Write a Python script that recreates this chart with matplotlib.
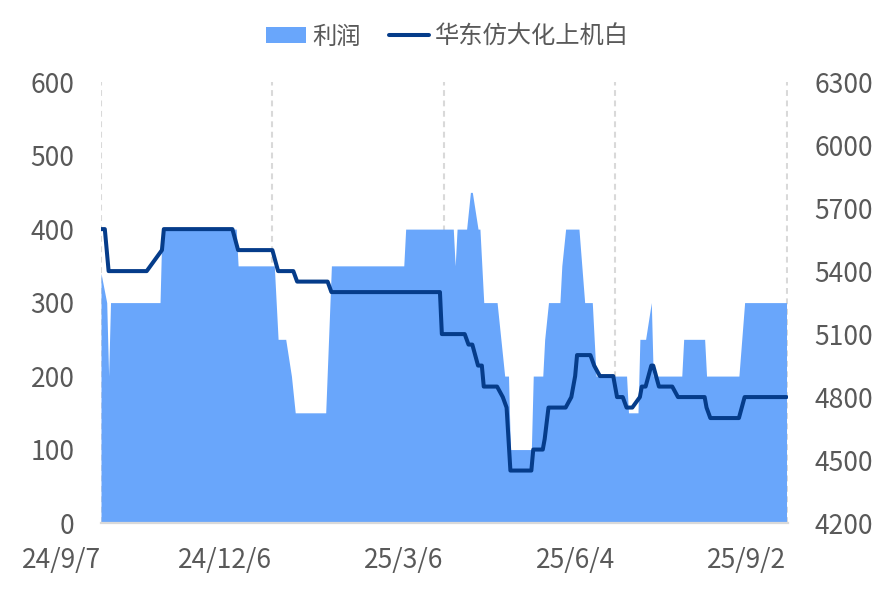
import matplotlib
matplotlib.use('Agg')
import matplotlib.pyplot as plt
import pandas as pd
from matplotlib.patches import Patch
from matplotlib.lines import Line2D

plt.rcParams['font.family'] = ['Noto Sans CJK SC', 'DejaVu Sans']

# ---- data (vertices) ----
profit_dates = [
    '2024-09-07', '2024-09-10', '2024-09-11', '2024-09-12', '2024-10-08', '2024-10-09',
    '2024-11-17', '2024-11-18', '2024-12-07', '2024-12-09', '2024-12-13', '2024-12-16',
    '2024-12-18', '2025-01-03', '2025-01-06', '2025-02-13', '2025-02-14', '2025-03-11',
    '2025-03-12', '2025-03-13', '2025-03-18', '2025-03-20', '2025-03-21', '2025-03-24',
    '2025-03-25', '2025-03-27', '2025-04-03', '2025-04-07', '2025-04-09', '2025-04-10',
    '2025-04-21', '2025-04-22', '2025-04-27', '2025-04-28', '2025-04-30', '2025-05-06',
    '2025-05-07', '2025-05-09', '2025-05-16', '2025-05-19', '2025-05-23', '2025-05-25',
    '2025-06-10', '2025-06-11', '2025-06-16', '2025-06-17', '2025-06-20', '2025-06-23',
    '2025-06-24', '2025-07-09', '2025-07-10', '2025-07-21', '2025-07-22', '2025-08-08',
    '2025-08-11', '2025-09-02',
]
profit = [
    340, 300, 200, 300, 300, 400,
    400, 350, 350, 250, 250, 200,
    150, 150, 350, 350, 400, 400,
    350, 400, 400, 450, 450, 400,
    400, 300, 300, 200, 200, 100,
    100, 200, 200, 250, 300, 300,
    350, 400, 400, 300, 300, 200,
    200, 150, 150, 250, 250, 300,
    200, 200, 250, 250, 200, 200,
    300, 300,
]

price_dates = [
    '2024-09-07', '2024-09-09', '2024-09-11', '2024-10-01', '2024-10-09', '2024-10-10',
    '2024-11-15', '2024-11-18', '2024-12-06', '2024-12-09', '2024-12-17', '2024-12-19',
    '2025-01-04', '2025-01-06', '2025-03-04', '2025-03-05', '2025-03-17', '2025-03-19',
    '2025-03-21', '2025-03-24', '2025-03-26', '2025-03-27', '2025-04-03', '2025-04-06',
    '2025-04-08', '2025-04-10', '2025-04-21', '2025-04-22', '2025-04-27', '2025-04-28',
    '2025-04-30', '2025-05-09', '2025-05-12', '2025-05-14', '2025-05-15', '2025-05-22',
    '2025-05-24', '2025-05-27', '2025-06-03', '2025-06-05', '2025-06-08', '2025-06-10',
    '2025-06-13', '2025-06-17', '2025-06-18', '2025-06-20', '2025-06-23', '2025-06-24',
    '2025-06-27', '2025-07-04', '2025-07-07', '2025-07-21', '2025-07-22', '2025-07-24',
    '2025-08-08', '2025-08-11', '2025-09-02',
]
price = [
    5600, 5600, 5400, 5400, 5500, 5600,
    5600, 5500, 5500, 5400, 5400, 5350,
    5350, 5300, 5300, 5100, 5100, 5050,
    5050, 4950, 4950, 4850, 4850, 4800,
    4750, 4450, 4450, 4550, 4550, 4600,
    4750, 4750, 4800, 4900, 5000, 5000,
    4950, 4900, 4900, 4800, 4800, 4750,
    4750, 4800, 4850, 4850, 4950, 4950,
    4850, 4850, 4800, 4800, 4750, 4700,
    4700, 4800, 4800,
]

tick_dates = ['2024-09-07', '2024-12-06', '2025-03-06', '2025-06-04', '2025-09-02']

AREA = '#69A6FB'
LINE = '#053C8A'
TXT = '#595959'
GRID = '#D9D9D9'

pdates = pd.to_datetime(profit_dates)
ldates = pd.to_datetime(price_dates)
ticks = pd.to_datetime(tick_dates)

fig = plt.figure(figsize=(8.86, 5.91), dpi=100)
ax = fig.add_axes([0.114, 0.115, 0.775, 0.746])
ax2 = ax.twinx()

ax.fill_between(pdates, profit, 0, color=AREA, linewidth=0, zorder=2)
ax2.plot(ldates, price, color=LINE, linewidth=2.9, solid_joinstyle='round',
         solid_capstyle='round', zorder=3)

ax.set_xlim(ticks[0], ticks[-1] + pd.Timedelta(days=0.6))
ax.set_ylim(0, 600)
ax2.set_ylim(4200, 6300)
ax.set_yticks(range(0, 601, 100))
ax2.set_yticks(range(4200, 6301, 300))

for t in ticks:
    ax.axvline(t, color=GRID, linestyle=(0, (2.8, 2.2)), linewidth=1.5, zorder=1)

ax.set_xticks(ticks)
ax.set_xticklabels([f'{d.year % 100}/{d.month}/{d.day}' for d in ticks], ha='right')

for a in (ax, ax2):
    for s in ('top', 'left', 'right'):
        a.spines[s].set_visible(False)
    a.tick_params(length=0, labelsize=19, labelcolor=TXT)
ax2.spines['bottom'].set_visible(False)
ax.spines['bottom'].set_color(GRID)
ax.spines['bottom'].set_linewidth(1.6)
ax.tick_params(axis='y', pad=19)
ax.tick_params(axis='x', pad=17)
ax2.tick_params(axis='y', pad=19)

handles = [Patch(facecolor=AREA, edgecolor='none'),
           Line2D([0], [0], color=LINE, linewidth=2.9, solid_capstyle='round')]
fig.legend(handles, ['利润', '华东仿大化上机白'], loc='center',
           bbox_to_anchor=(0.505, 0.938), ncol=2, frameon=False, fontsize=17.5,
           labelcolor=TXT, handlelength=1.65, handleheight=0.6,
           columnspacing=1.15, handletextpad=0.25)

fig.savefig('out.png', dpi=100)
